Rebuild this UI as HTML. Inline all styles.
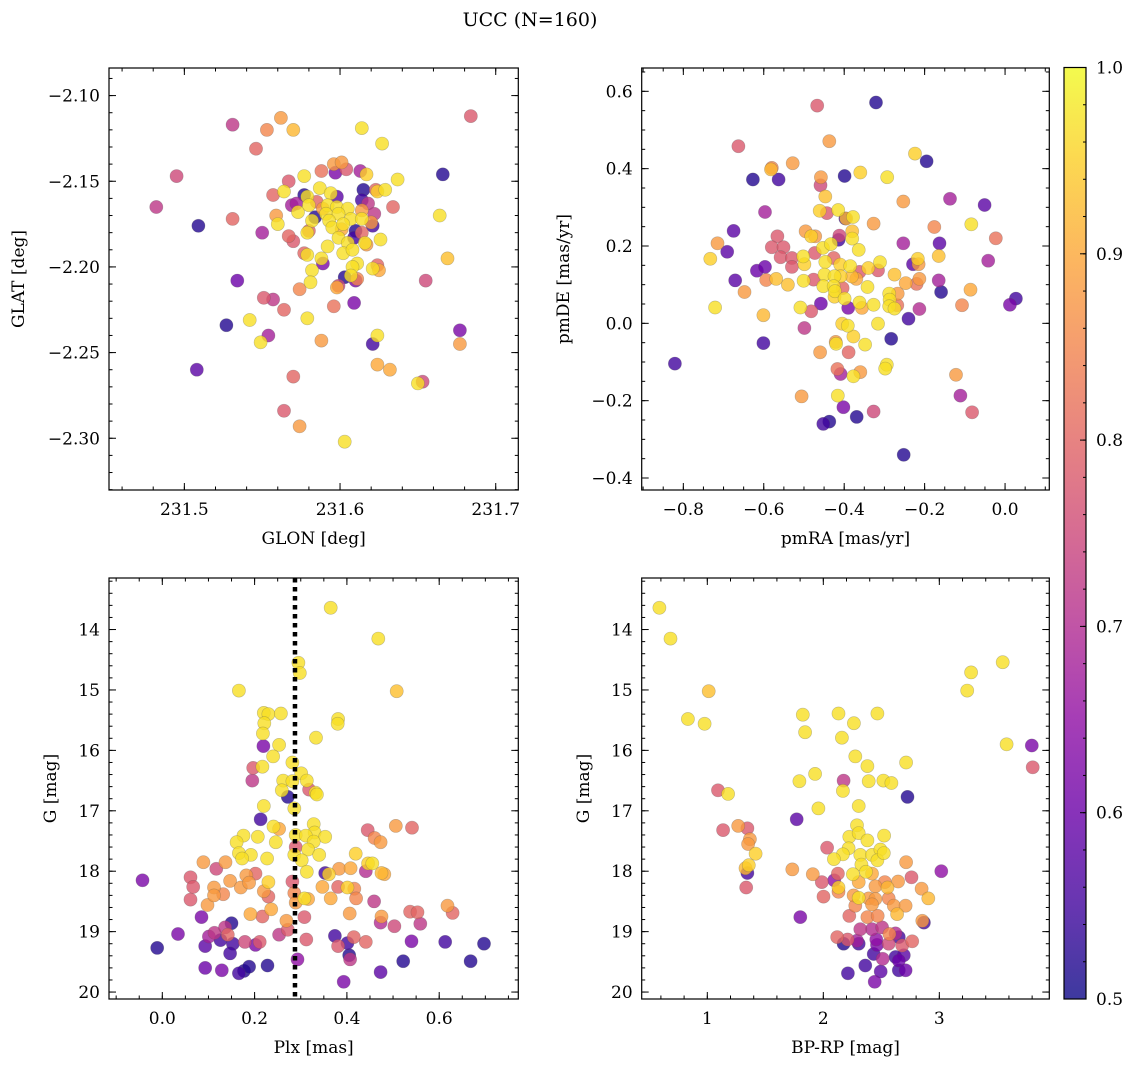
<!DOCTYPE html>
<html><head><meta charset="utf-8"><title>UCC (N=160)</title>
<style>
html,body{margin:0;padding:0;background:#fff;}
svg{display:block;font-family:"DejaVu Serif","Liberation Serif",serif;}
</style></head>
<body>
<svg id="fig" width="1136" height="1067" viewBox="0 0 1136 1067" xmlns="http://www.w3.org/2000/svg">
<text x="530" y="26" font-size="19" text-anchor="middle">UCC (N=160)</text>
</svg>
<script>
// ---------- Panel 1: GLON vs GLAT ----------
const glon = [231.531,231.562,231.553,231.570,231.546,231.614,231.627,231.684,
231.495,231.482,231.509,231.531,231.550,231.534,231.527,231.508,231.542,231.554,231.549,231.551,231.557,231.564,231.574,231.579,231.588,231.570,231.564,231.574,231.603,
231.596,231.609,231.621,231.624,231.624,231.632,231.653,231.650,231.677,231.677,231.655,231.669,231.664,231.666,231.634,231.637,
231.588,231.596,231.601,231.604,231.597,231.613,231.617,231.567,231.577,231.557,231.564,231.577,231.587,231.579,231.594,231.598,231.615,231.623,231.624,231.629,231.614,231.618,
231.569,231.572,231.573,231.580,231.585,231.589,231.592,231.598,231.605,231.591,231.599,231.584,231.582,231.607,231.614,231.614,231.622,231.621,231.620,
231.559,231.560,231.580,231.579,231.593,231.595,231.602,231.610,231.609,231.614,231.601,231.599,231.605,231.616,231.617,231.626,
231.567,231.570,231.577,231.579,231.592,231.602,231.608,231.589,231.588,231.582,231.581,231.611,231.608,231.624,231.621,231.625,231.603,231.610,231.611,231.607,231.599,231.598];
const glat = [-2.117,-2.113,-2.120,-2.120,-2.131,-2.119,-2.128,-2.112,
-2.147,-2.165,-2.176,-2.172,-2.180,-2.208,-2.234,-2.260,-2.231,-2.240,-2.244,-2.218,-2.219,-2.225,-2.213,-2.230,-2.243,-2.264,-2.284,-2.293,-2.302,
-2.223,-2.221,-2.245,-2.240,-2.257,-2.260,-2.267,-2.268,-2.237,-2.245,-2.208,-2.195,-2.170,-2.146,-2.165,-2.149,
-2.144,-2.140,-2.139,-2.143,-2.145,-2.144,-2.146,-2.150,-2.147,-2.158,-2.156,-2.158,-2.154,-2.159,-2.157,-2.159,-2.155,-2.155,-2.156,-2.155,-2.161,-2.163,
-2.164,-2.163,-2.168,-2.164,-2.162,-2.166,-2.164,-2.165,-2.166,-2.169,-2.169,-2.171,-2.173,-2.172,-2.167,-2.172,-2.169,-2.176,-2.174,
-2.170,-2.175,-2.179,-2.180,-2.173,-2.177,-2.175,-2.179,-2.183,-2.180,-2.178,-2.183,-2.186,-2.186,-2.187,-2.184,
-2.182,-2.185,-2.192,-2.193,-2.188,-2.192,-2.190,-2.198,-2.195,-2.202,-2.209,-2.198,-2.200,-2.199,-2.201,-2.202,-2.206,-2.208,-2.207,-2.205,-2.211,-2.212];
const prob1 = [0.72,0.88,0.85,0.92,0.8,0.97,0.97,0.78,
0.75,0.72,0.52,0.8,0.68,0.6,0.52,0.58,0.97,0.68,0.97,0.78,0.72,0.8,0.85,0.97,0.88,0.8,0.78,0.88,0.97,
0.82,0.62,0.55,0.97,0.9,0.9,0.75,0.97,0.62,0.88,0.75,0.93,0.97,0.52,0.8,0.97,
0.82,0.88,0.88,0.78,0.62,0.68,0.95,0.78,0.97,0.8,0.97,0.52,0.97,0.97,0.97,0.58,0.52,0.8,0.95,0.97,0.55,0.72,
0.68,0.68,0.97,0.97,0.8,0.88,0.97,0.97,0.97,0.97,0.97,0.52,0.97,0.97,0.88,0.97,0.72,0.55,0.88,
0.88,0.97,0.8,0.97,0.97,0.97,0.97,0.52,0.55,0.8,0.9,0.97,0.97,0.97,0.88,0.97,
0.8,0.78,0.8,0.97,0.97,0.97,0.97,0.62,0.97,0.97,0.97,0.97,0.97,0.8,0.97,0.9,0.52,0.62,0.85,0.97,0.75,0.9];

// ---------- Panel 2: pmRA vs pmDE ----------
const pmra = [-0.467,-0.321,-0.437,-0.663,-0.224,-0.195,-0.528,-0.580,-0.582,-0.627,-0.563,-0.458,-0.459,-0.399,-0.360,-0.293,-0.447,-0.253,-0.137,-0.051,
-0.597,-0.461,-0.443,-0.415,-0.397,-0.395,-0.378,-0.327,-0.176,-0.084,-0.675,-0.715,-0.691,-0.733,-0.566,-0.580,-0.551,-0.558,-0.530,-0.530,
-0.496,-0.482,-0.472,-0.453,-0.433,-0.414,-0.412,-0.380,-0.380,-0.364,-0.023,-0.253,-0.163,-0.165,-0.042,-0.217,-0.229,-0.215,-0.502,-0.499,
-0.473,-0.447,-0.426,-0.410,-0.385,-0.362,-0.340,-0.311,-0.316,-0.617,-0.597,-0.671,-0.594,-0.569,-0.540,-0.501,-0.476,-0.449,-0.452,-0.424,
-0.409,-0.404,-0.381,-0.370,-0.342,-0.275,-0.247,-0.220,-0.213,-0.165,-0.648,-0.426,-0.423,-0.424,-0.399,-0.288,-0.267,-0.287,-0.159,-0.086,
-0.721,-0.509,-0.482,-0.458,-0.390,-0.362,-0.356,-0.327,-0.288,-0.275,-0.268,-0.213,-0.107,0.012,0.027,-0.601,-0.499,-0.405,-0.391,-0.377,
-0.348,-0.316,-0.240,-0.283,-0.601,-0.460,-0.421,-0.420,-0.389,-0.821,-0.417,-0.409,-0.360,-0.377,-0.294,-0.298,-0.122,-0.506,-0.416,-0.111,
-0.402,-0.327,-0.082,-0.452,-0.437,-0.369,-0.252];
const pmde = [0.563,0.571,0.471,0.458,0.439,0.419,0.414,0.402,0.398,0.372,0.372,0.378,0.357,0.381,0.390,0.378,0.328,0.315,0.322,0.306,
0.288,0.291,0.285,0.293,0.271,0.271,0.275,0.258,0.249,0.256,0.239,0.207,0.185,0.167,0.225,0.197,0.197,0.171,0.169,0.146,
0.238,0.225,0.225,0.195,0.205,0.216,0.227,0.238,0.219,0.190,0.220,0.207,0.207,0.174,0.162,0.167,0.153,0.153,0.173,0.153,
0.182,0.159,0.169,0.152,0.148,0.133,0.143,0.158,0.137,0.136,0.146,0.111,0.112,0.115,0.100,0.110,0.113,0.126,0.096,0.122,
0.122,0.091,0.121,0.115,0.094,0.126,0.104,0.102,0.115,0.111,0.081,0.096,0.083,0.069,0.064,0.077,0.077,0.061,0.081,0.087,
0.041,0.041,0.031,0.051,0.040,0.054,0.040,0.048,0.044,0.038,0.047,0.037,0.047,0.048,0.064,0.021,-0.012,-0.001,-0.006,-0.034,
-0.055,-0.001,0.012,-0.040,-0.051,-0.075,-0.048,-0.053,-0.075,-0.104,-0.118,-0.131,-0.126,-0.137,-0.107,-0.117,-0.133,-0.189,-0.187,-0.187,
-0.217,-0.228,-0.230,-0.260,-0.254,-0.242,-0.340];
const prob2 = [0.78,0.52,0.88,0.78,0.95,0.52,0.88,0.85,0.92,0.52,0.55,0.88,0.75,0.52,0.95,0.97,0.93,0.88,0.68,0.58,
0.68,0.95,0.78,0.97,0.55,0.92,0.97,0.88,0.85,0.97,0.58,0.88,0.58,0.95,0.78,0.78,0.78,0.78,0.78,0.78,
0.88,0.95,0.88,0.97,0.97,0.55,0.75,0.93,0.97,0.97,0.82,0.68,0.58,0.93,0.68,0.95,0.58,0.88,0.97,0.95,
0.78,0.97,0.8,0.95,0.97,0.78,0.95,0.97,0.78,0.6,0.6,0.58,0.85,0.93,0.93,0.97,0.78,0.97,0.97,0.97,
0.95,0.8,0.92,0.9,0.97,0.93,0.9,0.82,0.88,0.68,0.88,0.97,0.97,0.95,0.97,0.97,0.88,0.97,0.52,0.9,
0.97,0.97,0.78,0.6,0.62,0.97,0.9,0.97,0.97,0.97,0.82,0.7,0.85,0.62,0.55,0.92,0.72,0.95,0.97,0.95,
0.97,0.97,0.55,0.52,0.55,0.88,0.88,0.97,0.8,0.55,0.82,0.68,0.88,0.97,0.97,0.97,0.88,0.88,0.97,0.68,
0.62,0.75,0.78,0.55,0.52,0.52,0.52];

// ---------- Panel 3: Plx vs G ----------
const plx = [-0.043,-0.011,0.034,0.061,0.067,0.061,0.089,0.098,0.117,0.085,0.112,0.112,0.132,0.137,0.147,0.170,0.182,0.188,0.202,0.191,0.217,0.220,0.230,0.230,0.236,
0.093,0.101,0.113,0.126,0.136,0.142,0.150,0.153,0.147,0.179,0.202,0.211,
0.093,0.129,0.166,0.177,0.188,0.228,
0.253,0.272,0.269,0.308,0.312,0.293,
0.282,0.286,0.308,0.289,0.316,
0.353,0.361,0.347,0.365,0.381,0.383,0.401,0.408,0.416,0.420,0.406,
0.441,0.446,0.455,0.475,0.481,0.419,
0.445,0.460,0.473,0.506,0.541,
0.459,0.475,0.473,0.503,0.537,0.553,0.559,0.618,0.629,
0.374,0.381,0.401,0.405,0.407,0.415,0.441,0.540,0.613,0.697,0.522,0.668,0.473,0.393,
0.166,0.365,0.468,0.508,0.295,0.298,0.220,0.230,0.257,0.221,0.218,0.381,0.380,0.333,0.219,0.253,0.240,0.282,0.197,0.217,
0.195,0.301,0.262,0.282,0.313,0.318,0.259,0.272,0.332,0.335,0.220,0.286,0.213,0.241,0.253,0.328,0.330,0.353,0.289,0.311,
0.328,0.289,0.316,0.340,0.286,0.302,0.313,0.176,0.161,0.207,0.246,0.166,0.192,0.173,0.227];
const gmag3 = [18.15,19.27,19.04,18.10,18.26,18.47,17.85,18.56,17.96,18.76,18.27,18.40,18.38,17.85,18.16,18.27,18.07,18.19,18.04,18.71,18.75,18.33,18.42,18.18,18.63,
19.24,19.08,19.02,19.14,18.93,19.05,18.86,19.20,19.36,19.17,19.22,19.17,
19.60,19.64,19.69,19.65,19.58,19.56,
19.05,18.97,18.82,18.76,19.13,19.46,
18.17,18.36,18.45,18.52,18.46,
18.03,18.05,18.26,18.45,18.26,17.96,18.27,17.95,18.29,18.45,18.70,
18.00,17.87,17.87,18.03,18.05,17.71,
17.32,17.45,17.52,17.25,17.28,
18.50,18.75,18.85,18.91,18.67,18.68,18.87,18.57,18.69,
19.07,19.24,19.19,19.39,19.46,19.09,19.17,19.16,19.17,19.20,19.49,19.49,19.67,19.83,
15.01,13.64,14.15,15.02,14.55,14.72,15.38,15.40,15.39,15.55,15.72,15.48,15.56,15.79,15.93,15.91,16.10,16.20,16.29,16.27,
16.50,16.38,16.50,16.51,16.50,16.65,16.66,16.77,16.70,16.73,16.92,16.96,17.14,17.26,17.30,17.22,17.36,17.43,17.40,17.41,
17.51,17.60,17.64,17.73,17.73,17.82,18.01,17.41,17.52,17.43,17.52,17.70,17.73,17.79,17.79];
const prob3 = [0.62,0.52,0.62,0.78,0.78,0.78,0.88,0.88,0.75,0.62,0.88,0.88,0.85,0.88,0.88,0.88,0.88,0.88,0.8,0.9,0.8,0.88,0.8,0.95,0.9,
0.58,0.68,0.72,0.55,0.72,0.8,0.52,0.55,0.55,0.75,0.62,0.78,
0.6,0.62,0.55,0.52,0.52,0.52,
0.72,0.78,0.88,0.78,0.78,0.65,
0.78,0.85,0.97,0.88,0.9,
0.55,0.95,0.9,0.9,0.8,0.88,0.95,0.9,0.85,0.85,0.88,
0.7,0.95,0.97,0.92,0.9,0.95,
0.78,0.85,0.88,0.88,0.8,
0.72,0.88,0.7,0.75,0.8,0.8,0.72,0.88,0.8,
0.55,0.78,0.55,0.52,0.72,0.8,0.8,0.62,0.55,0.52,0.52,0.52,0.58,0.62,
0.97,0.97,0.97,0.93,0.97,0.97,0.97,0.97,0.97,0.97,0.97,0.97,0.97,0.97,0.62,0.97,0.97,0.97,0.78,0.97,
0.72,0.97,0.97,0.97,0.97,0.78,0.97,0.52,0.97,0.97,0.97,0.97,0.55,0.97,0.9,0.97,0.97,0.97,0.97,0.97,
0.97,0.78,0.97,0.97,0.97,0.97,0.97,0.97,0.97,0.97,0.97,0.97,0.97,0.97,0.97];
const plxLine = 0.2875;

// ---------- Panel 4: BP-RP vs G ----------
const bprp = [0.587,0.683,1.012,0.833,0.977,1.092,1.179,1.136,1.266,1.346,1.367,1.352,1.416,1.329,1.358,1.346,1.335,
1.823,1.843,2.131,2.264,2.160,2.466,3.240,3.274,3.546,3.580,3.797,3.805,
2.276,2.380,2.714,1.929,1.794,2.175,2.169,2.391,2.518,2.587,2.726,2.305,1.958,1.771,
2.290,2.224,2.305,2.380,2.524,2.033,2.218,2.319,2.169,2.091,2.420,2.492,2.466,2.521,2.328,2.255,2.368,2.420,2.714,1.733,
1.909,2.126,2.094,1.987,2.131,2.131,2.002,2.305,2.449,2.530,2.553,2.645,2.760,3.017,2.847,2.905,2.305,2.261,2.391,2.449,
2.564,2.608,2.709,2.276,2.420,2.224,2.380,2.469,2.636,2.867,2.853,1.802,2.319,2.420,2.507,2.622,2.570,2.120,2.209,2.290,
2.457,2.651,2.766,2.175,2.305,2.463,2.564,2.680,2.434,2.512,2.622,2.694,2.362,2.651,2.495,2.651,2.709,2.212,2.443];
const gmag4 = [13.64,14.15,15.02,15.48,15.56,16.66,16.72,17.32,17.25,17.29,17.47,17.55,17.71,17.95,17.90,18.03,18.27,
15.41,15.70,15.39,15.55,15.79,15.39,15.01,14.71,14.54,15.90,15.92,16.28,
16.10,16.26,16.20,16.39,16.51,16.50,16.67,16.51,16.50,16.54,16.77,16.92,16.96,17.14,
17.24,17.43,17.37,17.49,17.41,17.61,17.62,17.73,17.72,17.80,17.73,17.64,17.82,17.70,17.89,18.05,18.01,18.04,17.85,17.97,
18.05,18.04,18.15,18.18,18.27,18.34,18.42,18.18,18.25,18.18,18.27,18.17,18.10,18.00,18.29,18.45,18.44,18.40,18.45,18.46,
18.45,18.57,18.57,18.57,18.55,18.74,18.76,18.74,18.71,18.85,18.82,18.76,18.96,18.96,18.93,19.03,19.04,19.09,19.13,19.15,
19.13,19.09,19.16,19.20,19.20,19.22,19.20,19.23,19.37,19.45,19.42,19.39,19.56,19.48,19.66,19.64,19.64,19.69,19.83];
const prob4 = [0.97,0.97,0.93,0.97,0.97,0.78,0.97,0.78,0.88,0.78,0.88,0.88,0.95,0.92,0.95,0.55,0.78,
0.97,0.97,0.97,0.97,0.97,0.97,0.97,0.97,0.97,0.97,0.62,0.78,
0.97,0.97,0.97,0.97,0.97,0.72,0.97,0.97,0.97,0.97,0.52,0.97,0.97,0.58,
0.97,0.97,0.97,0.97,0.97,0.78,0.97,0.97,0.97,0.97,0.97,0.97,0.97,0.97,0.97,0.97,0.97,0.9,0.88,0.88,
0.88,0.8,0.65,0.78,0.95,0.85,0.8,0.9,0.88,0.85,0.92,0.88,0.78,0.65,0.88,0.92,0.97,0.88,0.88,0.88,
0.85,0.88,0.88,0.85,0.88,0.8,0.85,0.85,0.92,0.55,0.88,0.62,0.72,0.7,0.72,0.7,0.85,0.8,0.78,0.68,
0.65,0.55,0.8,0.52,0.55,0.62,0.75,0.78,0.55,0.7,0.55,0.58,0.55,0.6,0.58,0.55,0.6,0.55,0.62];

// ---------- Colorbar ----------
const cbTicks = [0.5,0.6,0.7,0.8,0.9,1.0];
const cbLabels = ["0.5","0.6","0.7","0.8","0.9","1.0"];

const NS = "http://www.w3.org/2000/svg";
const svg = document.getElementById('fig');
function el(tag, attrs, parent){ const e=document.createElementNS(NS,tag); for(const k in attrs) e.setAttribute(k,attrs[k]); (parent||svg).appendChild(e); return e; }

const plasma = [[13,8,135],[65,4,157],[106,0,168],[143,13,164],[177,42,144],[204,71,120],[225,100,98],[242,132,75],[252,166,54],[252,206,37],[240,249,33]];
function cmap(p){
  let t=(p-0.5)/0.5; t=Math.max(0,Math.min(1,t));
  const f=t*10, i=Math.min(9,Math.floor(f)), r=f-i;
  const a=plasma[i], b=plasma[i+1];
  return 'rgb('+a.map((v,k)=>Math.round(v+(b[k]-v)*r)).join(',')+')';
}
function lin(d0,d1,r0,r1){ return v=>r0+(v-d0)/(d1-d0)*(r1-r0); }
const FS=17;

function panel(cfg){
  const g=el('g',{});
  
  
  const {L,R,T,B}=cfg;
  const sx=lin(cfg.xd[0],cfg.xd[1],L,R), sy=lin(cfg.yd[0],cfg.yd[1],T,B);
  const pg=el('g',{},g);
  
  
  const n=Math.min(cfg.x.length,cfg.y.length,cfg.c.length);
  const idx=[...Array(n).keys()].sort((a,b)=>cfg.c[a]-cfg.c[b]);
  for(const i of idx){
    const c=el('circle',{cx:sx(cfg.x[i]).toFixed(1),cy:sy(cfg.y[i]).toFixed(1),r:6.6,fill:cmap(cfg.c[i]),'fill-opacity':0.8,stroke:'#555','stroke-opacity':0.35,'stroke-width':0.6},pg);
    
    
  }
  if(cfg.vline!==undefined){
    const vx=sx(cfg.vline);
    const l=el('line',{x1:vx,x2:vx,y1:T,y2:B,stroke:'#000','stroke-width':4.5,'stroke-dasharray':'4.5 4.5'},g);
    
    
  }
  const tk=el('g',{stroke:'#000','stroke-width':1},g);
  
  
  const eps=1e-9;
  function range(a,b,s){const o=[];const st=Math.ceil((a-eps)/s);for(let k=st;k*s<=b+eps;k++)o.push(+(k*s).toFixed(6));return o;}
  const xlo=Math.min(...cfg.xd), xhi=Math.max(...cfg.xd), ylo=Math.min(...cfg.yd), yhi=Math.max(...cfg.yd);
  for(const v of range(xlo,xhi,cfg.xminor)){const x=sx(v);el('line',{x1:x,x2:x,y1:B,y2:B-3.5},tk);el('line',{x1:x,x2:x,y1:T,y2:T+3.5},tk);}
  for(const v of range(ylo,yhi,cfg.yminor)){const y=sy(v);el('line',{x1:L,x2:L+3.5,y1:y,y2:y},tk);el('line',{x1:R,x2:R-3.5,y1:y,y2:y},tk);}
  cfg.xt.forEach((v,k)=>{const x=sx(v);el('line',{x1:x,x2:x,y1:B,y2:B-7},tk);el('line',{x1:x,x2:x,y1:T,y2:T+7},tk);
    const t=el('text',{x:x,y:B+25,'font-size':FS,'text-anchor':'middle'},g);t.textContent=cfg.xl[k];
    
    });
  cfg.yt.forEach((v,k)=>{const y=sy(v);el('line',{x1:L,x2:L+7,y1:y,y2:y},tk);el('line',{x1:R,x2:R-7,y1:y,y2:y},tk);
    const t=el('text',{x:L-9,y:y+6,'font-size':FS,'text-anchor':'end'},g);t.textContent=cfg.yl[k];
    
    });
  const fr=el('rect',{x:L,y:T,width:R-L,height:B-T,fill:'none',stroke:'#000','stroke-width':1.2},g);
  
  
  const xt=el('text',{x:(L+R)/2,y:B+54,'font-size':FS,'text-anchor':'middle'},g);xt.textContent=cfg.xlabel;
  
  
  const yt=el('text',{x:0,y:0,'font-size':FS,'text-anchor':'middle',transform:`translate(${cfg.ylx},${(T+B)/2}) rotate(-90)`},g);yt.textContent=cfg.ylabel;
  
  
}

panel({name:'glon-glat-panel',L:109,R:518.3,T:68,B:490,xd:[231.4516,231.7145],yd:[-2.0839,-2.3302],x:glon,y:glat,c:prob1,
  xt:[231.5,231.6,231.7],xl:['231.5','231.6','231.7'],xminor:0.02,
  yt:[-2.10,-2.15,-2.20,-2.25,-2.30],yl:['\u22122.10','\u22122.15','\u22122.20','\u22122.25','\u22122.30'],yminor:0.01,
  xlabel:'GLON [deg]',ylabel:'GLAT [deg]',ylx:24});
panel({name:'pm-panel',L:641.7,R:1049.3,T:68,B:490,xd:[-0.9035,0.110],yd:[0.6603,-0.431],x:pmra,y:pmde,c:prob2,
  xt:[-0.8,-0.6,-0.4,-0.2,0.0],xl:['\u22120.8','\u22120.6','\u22120.4','\u22120.2','0.0'],xminor:0.05,
  yt:[-0.4,-0.2,0.0,0.2,0.4,0.6],yl:['\u22120.4','\u22120.2','0.0','0.2','0.4','0.6'],yminor:0.05,
  xlabel:'pmRA [mas/yr]',ylabel:'pmDE [mas/yr]',ylx:569});
panel({name:'plx-g-panel',L:109,R:518.3,T:578,B:999,xd:[-0.1155,0.7714],yd:[13.147,20.115],x:plx,y:gmag3,c:prob3,vline:plxLine,
  xt:[0,0.2,0.4,0.6],xl:['0.0','0.2','0.4','0.6'],xminor:0.05,
  yt:[14,15,16,17,18,19,20],yl:['14','15','16','17','18','19','20'],yminor:0.2,
  xlabel:'Plx [mas]',ylabel:'G [mag]',ylx:56});
panel({name:'cmd-panel',L:641.7,R:1049.3,T:578,B:999,xd:[0.4345,3.948],yd:[13.147,20.115],x:bprp,y:gmag4,c:prob4,
  xt:[1,2,3],xl:['1','2','3'],xminor:0.2,
  yt:[14,15,16,17,18,19,20],yl:['14','15','16','17','18','19','20'],yminor:0.2,
  xlabel:'BP-RP [mag]',ylabel:'G [mag]',ylx:589});

(function(){
  const L=1064,R=1086,T=67.5,B=999;
  const g=el('g',{});
  
  
  const defs=el('defs',{},g);
  const lg=el('linearGradient',{id:'cbg',x1:0,y1:1,x2:0,y2:0},defs);
  for(let k=0;k<=10;k++){el('stop',{offset:k/10,'stop-color':cmap(0.5+k*0.05)},lg);}
  el('rect',{x:L,y:T,width:R-L,height:B-T,fill:'url(#cbg)','fill-opacity':0.8},g);
  el('rect',{x:L,y:T,width:R-L,height:B-T,fill:'none',stroke:'#000','stroke-width':1.2},g);
  const sy=lin(0.5,1.0,B,T);
  for(let v=0.5;v<=1.0001;v+=0.02){const y=sy(v);el('line',{x1:R,x2:R-3,y1:y,y2:y,stroke:'#000','stroke-width':1},g);}
  cbTicks.forEach((v,k)=>{const y=sy(v);el('line',{x1:R,x2:R-6,y1:y,y2:y,stroke:'#000','stroke-width':1},g);
    const t=el('text',{x:R+10,y:y+6,'font-size':FS},g);t.textContent=cbLabels[k];
    
    });
})();
</script>
</body></html>
